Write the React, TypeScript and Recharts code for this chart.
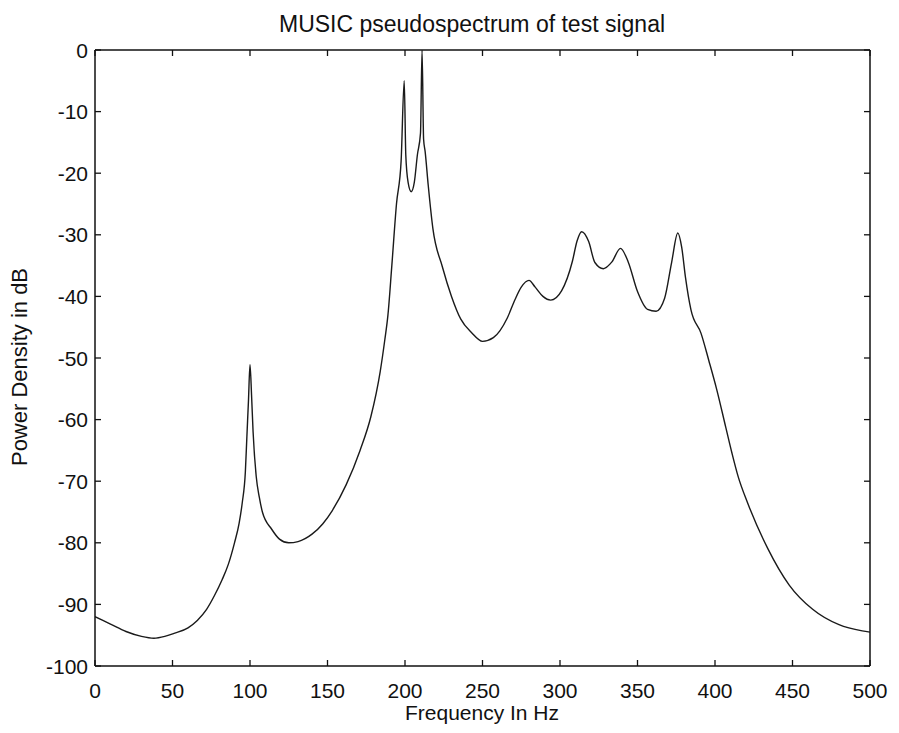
import React from 'react';
import { LineChart, Line, XAxis, YAxis } from 'recharts';

const freqHz = [
  0, 10, 20, 30, 38, 45, 51, 60, 66, 72, 77, 82, 86, 90, 93, 95, 97, 98, 99, 100,
  101, 102, 104, 106, 108, 114, 119, 125, 131, 140, 147, 153, 162, 171, 178, 184, 187, 189,
  191.5, 194.5, 197.5, 199.5, 200.5, 202, 204, 206, 208, 210, 211, 212, 213, 215, 218,
  224, 230, 236, 243, 250, 257, 266, 271, 275, 280, 284, 289, 294, 301, 308, 311, 314,
  318.5, 322.5, 328, 333.5, 339, 344, 350, 356.5, 362, 367.5, 372, 376, 378.5, 381, 384.5,
  391, 396, 401, 407, 411, 415, 421, 434, 448, 463, 480, 495, 500,
];

const powerDb = [
  -92.0, -93.2, -94.4, -95.2, -95.5, -95.2, -94.7, -93.8, -92.6, -90.8, -88.6, -86.0, -83.5, -80.0, -76.8, -73.5, -68.5, -62.7, -57.0, -51.1,
  -56.0, -62.0, -69.2, -72.6, -75.0, -77.8, -79.4, -80.0, -79.8, -78.6, -76.9, -74.8, -70.6, -65.0, -59.5, -52.2, -47.0, -43.0,
  -35.0, -25.0, -18.0, -5.0, -17.0, -21.5, -23.0, -21.5, -17.0, -13.5, 0.0, -14.5, -16.5, -22.0, -29.0,
  -35.1, -40.0, -43.7, -45.9, -47.3, -46.7, -43.5, -40.5, -38.5, -37.4, -38.5, -40.0, -40.6, -39.1, -34.3, -31.0, -29.5,
  -31.1, -34.5, -35.5, -34.4, -32.2, -34.4, -39.2, -42.1, -42.4, -40.3, -34.5, -29.7, -32.0, -37.0, -42.2,
  -46.0, -50.4, -55.0, -61.3, -65.5, -69.3, -73.5, -80.9, -86.9, -90.8, -93.3, -94.3, -94.5,
];

const xTicks = [0, 50, 100, 150, 200, 250, 300, 350, 400, 450, 500];
const yTicks = [-100, -90, -80, -70, -60, -50, -40, -30, -20, -10, 0];

const titleText = 'MUSIC pseudospectrum of test signal';
const xLabelText = 'Frequency In Hz';
const yLabelText = 'Power Density in dB';

const data = freqHz.map((f, i) => ({ f, p: powerDb[i] }));

const FONT = '"Liberation Sans", Arial, Helvetica, sans-serif';
const INK = '#111';
const TICK_LEN = 6;

const BottomTick = (props: any) => {
  const { x, y, payload } = props;
  return (
    <g>
      <line x1={x} x2={x} y1={y} y2={y - TICK_LEN} stroke={INK} strokeWidth={1.3} />
      <text x={x} y={y + 32} textAnchor="middle" fill={INK} fontSize={21} fontFamily={FONT}>
        {payload.value}
      </text>
    </g>
  );
};

const LeftTick = (props: any) => {
  const { x, y, payload } = props;
  return (
    <g>
      <line x1={x} x2={x + TICK_LEN} y1={y} y2={y} stroke={INK} strokeWidth={1.3} />
      <text x={x - 7} y={y} dy="0.36em" textAnchor="end" fill={INK} fontSize={21} fontFamily={FONT}>
        {payload.value}
      </text>
    </g>
  );
};

const TopTick = (props: any) => {
  const { x, y } = props;
  return <line x1={x} x2={x} y1={y} y2={y + TICK_LEN} stroke={INK} strokeWidth={1.3} />;
};

const RightTick = (props: any) => {
  const { x, y } = props;
  return <line x1={x} x2={x - TICK_LEN} y1={y} y2={y} stroke={INK} strokeWidth={1.3} />;
};

export default function App() {
  return (
    <div style={{ position: 'relative', width: 883, height: 717, fontFamily: FONT, background: '#fff' }}>
      <div
        style={{
          position: 'absolute', left: 164, width: 600, top: 3, textAlign: 'center',
          fontSize: 23, lineHeight: '26px', color: INK, whiteSpace: 'nowrap',
        }}
      >
        {titleText}
      </div>
      <LineChart width={883} height={717} data={data} margin={{ top: 41, right: 20, left: 0, bottom: 0 }}>
        <XAxis
          dataKey="f" type="number" domain={[0, 500]} ticks={xTicks} interval={0}
          tick={BottomTick} tickLine={false} tickSize={0} tickMargin={0} height={59}
          stroke={INK} strokeWidth={1.5} allowDataOverflow
        />
        <XAxis
          xAxisId="top" orientation="top" dataKey="f" type="number" domain={[0, 500]} ticks={xTicks} interval={0}
          tick={TopTick} tickLine={false} tickSize={0} tickMargin={0} height={1}
          stroke={INK} strokeWidth={1.5} allowDataOverflow
        />
        <YAxis
          type="number" domain={[-100, 0]} ticks={yTicks} interval={0}
          tick={LeftTick} tickLine={false} tickSize={0} tickMargin={0} width={87}
          stroke={INK} strokeWidth={1.5} allowDataOverflow
        />
        <YAxis
          yAxisId="r" orientation="right" type="number" domain={[-100, 0]} ticks={yTicks} interval={0}
          tick={RightTick} tickLine={false} tickSize={0} tickMargin={0} width={1}
          stroke={INK} strokeWidth={1.5} allowDataOverflow
        />
        <Line dataKey="p" type="monotone" stroke="#1a1a1a" strokeWidth={1.4} dot={false} isAnimationActive={false} />
      </LineChart>
      <div
        style={{
          position: 'absolute', left: 324, width: 300, top: 693, textAlign: 'center',
          fontSize: 21, lineHeight: '24px', color: INK, whiteSpace: 'nowrap',
        }}
      >
        {xLabelText}
      </div>
      <div
        style={{
          position: 'absolute', left: 12 - 150, width: 300, top: 359 - 12, height: 24, textAlign: 'center',
          fontSize: 22, lineHeight: '24px', color: INK, whiteSpace: 'nowrap', transform: 'rotate(-90deg)',
        }}
      >
        {yLabelText}
      </div>
    </div>
  );
}
